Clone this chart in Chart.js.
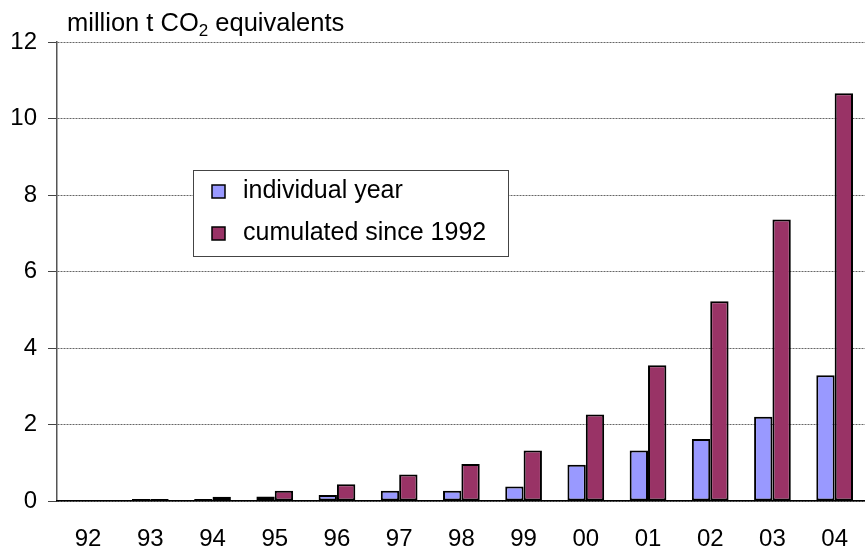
<!DOCTYPE html>
<html>
<head>
<meta charset="utf-8">
<script src="https://cdn.jsdelivr.net/npm/chart.js@4"></script>
<style>
  html, body { margin: 0; padding: 0; background: #fff; overflow: hidden; }
  #wrap { width: 865px; height: 548px; overflow: hidden; }
</style>
</head>
<body>
<div id="wrap"><canvas id="myChart" width="872" height="548"></canvas></div>
<script>
const years = ['92', '93', '94', '95', '96', '97', '98', '99', '00', '01', '02', '03', '04'];
const individual = [0, 0.05, 0.05, 0.12, 0.16, 0.27, 0.27, 0.38, 0.95, 1.32, 1.62, 2.2, 3.29];
const cumulated = [0, 0.05, 0.11, 0.27, 0.44, 0.69, 0.97, 1.32, 2.26, 3.55, 5.22, 7.36, 10.66];
const yTicks = [0, 2, 4, 6, 8, 10, 12];

const font = "'Liberation Sans', Arial, sans-serif";

// unit title with subscript 2, and the boxed legend inside the plot
const extras = {
  id: 'extras',
  afterDraw(chart) {
    const ctx = chart.ctx;
    ctx.save();
    ctx.fillStyle = '#000';
    ctx.textBaseline = 'alphabetic';
    ctx.textAlign = 'left';
    ctx.font = '25.5px ' + font;
    let x = 67;
    const y = 31;
    ctx.fillText('million t CO', x, y);
    x += ctx.measureText('million t CO').width;
    ctx.font = '17px ' + font;
    ctx.fillText('2', x, y + 5);
    x += ctx.measureText('2').width;
    ctx.font = '25.5px ' + font;
    ctx.fillText(' equivalents', x, y);

    // legend
    ctx.fillStyle = '#fff';
    ctx.fillRect(193, 170, 315, 86);
    ctx.strokeStyle = '#444';
    ctx.lineWidth = 1;
    ctx.strokeRect(193.5, 170.5, 315, 86);
    ctx.font = '25px ' + font;
    ctx.textBaseline = 'middle';
    chart.data.datasets.forEach((ds, i) => {
      const cy = 191 + i * 42;
      ctx.fillStyle = ds.backgroundColor;
      ctx.fillRect(212, cy - 6, 13, 13);
      ctx.strokeStyle = '#000';
      ctx.lineWidth = 1.5;
      ctx.strokeRect(212, cy - 6, 13, 13);
      ctx.fillStyle = '#000';
      ctx.fillText(ds.label, 243, cy);
    });
    ctx.restore();
  }
};

new Chart(document.getElementById('myChart'), {
  type: 'bar',
  data: {
    labels: years,
    datasets: [
      {
        label: 'individual year',
        data: individual,
        backgroundColor: '#9999FF',
        borderColor: '#000',
        borderWidth: 2,
        borderSkipped: false
      },
      {
        label: 'cumulated since 1992',
        data: cumulated,
        backgroundColor: '#993366',
        borderColor: '#000',
        borderWidth: 2,
        borderSkipped: false
      }
    ]
  },
  options: {
    responsive: false,
    animation: false,
    events: [],
    layout: { padding: { top: 42, right: 0, left: 0, bottom: 0 } },
    categoryPercentage: 0.59,
    barPercentage: 1.0,
    plugins: {
      legend: { display: false },
      tooltip: { enabled: false }
    },
    scales: {
      x: {
        afterFit(scale) { scale.height = 47; },
        grid: { display: false, drawTicks: false },
        border: { display: true, color: '#000', width: 1.5, z: 1 },
        ticks: { color: '#000', font: { family: font, size: 24 }, padding: 24, maxRotation: 0 }
      },
      y: {
        min: 0,
        max: 12,
        afterBuildTicks(scale) { scale.ticks = yTicks.map(v => ({ value: v })); },
        afterFit(scale) { scale.width = 57; },
        grid: {
          color: '#666',
          lineWidth: 1,
          tickLength: 9,
          tickColor: '#444',
          tickWidth: 1,
          tickBorderDash: [0, 0]
        },
        border: { display: true, color: '#555', width: 1.5, dash: [2, 1] },
        ticks: { color: '#000', font: { family: font, size: 24 }, padding: 11 }
      }
    }
  },
  plugins: [extras]
});
</script>
</body>
</html>
